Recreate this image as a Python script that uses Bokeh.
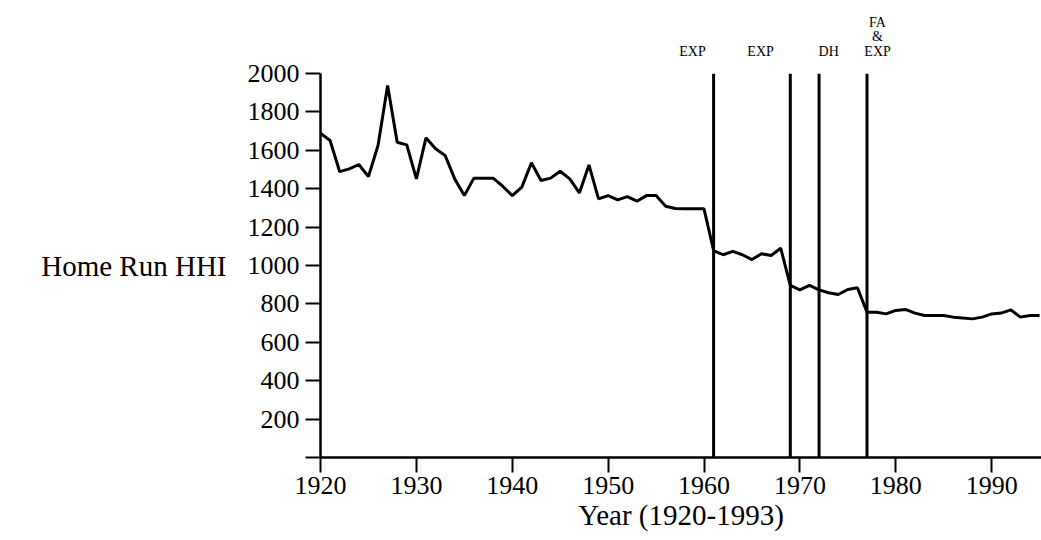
from bokeh.plotting import figure
from bokeh.layouts import column
from bokeh.models import Label, FixedTicker, Range1d
from bokeh.embed import file_html
from bokeh.resources import INLINE

years = list(range(1920, 1996))
hhi = [1689, 1651, 1489, 1503, 1526, 1463, 1625, 1937, 1642, 1628,
       1451, 1665, 1608, 1573, 1451, 1364, 1455, 1455, 1455, 1413,
       1364, 1408, 1535, 1443, 1455, 1491, 1451, 1378, 1524, 1347,
       1364, 1342, 1359, 1335, 1364, 1364, 1309, 1297, 1295, 1295,
       1295, 1078, 1056, 1074, 1056, 1031, 1061, 1052, 1090, 896,
       873, 896, 873, 858, 849, 875, 884, 757, 757, 748,
       766, 771, 752, 740, 740, 740, 731, 726, 722, 731,
       748, 752, 769, 731, 740, 740]
event_years = [1961, 1969, 1972, 1977]
event_tops = [2000, 2000, 2000, 2000]
event_bottoms = [0, 0, 0, 0]
x_ticks = [1920, 1930, 1940, 1950, 1960, 1970, 1980, 1990]
y_ticks = [0, 200, 400, 600, 800, 1000, 1200, 1400, 1600, 1800, 2000]

FONT = "Liberation Serif"
xr = Range1d(1920, 1995.2)

# top strip holding the event annotations
top = figure(width=1041, height=58, output_backend="svg", toolbar_location=None,
             x_range=xr, y_range=Range1d(0, 58),
             x_axis_location=None, y_axis_location=None,
             min_border_left=320, min_border_right=0, min_border_top=0,
             min_border_bottom=0)
top.outline_line_color = None
top.xgrid.visible = False
top.ygrid.visible = False

labels = [("EXP", 1958.8, 7), ("EXP", 1965.9, 7), ("DH", 1973.0, 7),
          ("EXP", 1978.1, 7), ("&", 1978.1, 22), ("FA", 1978.1, 36)]
for txt, lx, ly in labels:
    top.add_layout(Label(x=lx, y=ly, text=txt, text_align="center",
                         text_baseline="alphabetic", text_font=FONT,
                         text_font_size="14px", text_color="black"))

p = figure(width=1041, height=482, output_backend="svg", toolbar_location=None,
           x_range=xr, y_range=Range1d(0, 2000),
           min_border_left=320, min_border_right=0, min_border_top=15,
           min_border_bottom=83)
p.outline_line_color = None
p.xgrid.visible = False
p.ygrid.visible = False

p.line(years, hhi, line_color="black", line_width=3)
p.segment(x0=event_years, y0=event_bottoms, x1=event_years, y1=event_tops,
          line_color="black", line_width=3)

for ax in (p.xaxis[0], p.yaxis[0]):
    ax.axis_line_width = 2.5
    ax.major_tick_line_width = 2
    ax.major_tick_out = 15
    ax.major_tick_in = 0
    ax.minor_tick_line_color = None
    ax.major_label_text_font = FONT
    ax.major_label_text_font_size = "26px"
    ax.major_label_text_color = "black"
    ax.axis_label_text_font = FONT
    ax.axis_label_text_font_size = "29px"
    ax.axis_label_text_font_style = "normal"
    ax.axis_label_text_color = "black"
    ax.axis_line_color = "black"
    ax.major_tick_line_color = "black"

p.xaxis.ticker = FixedTicker(ticks=x_ticks)
p.yaxis.ticker = FixedTicker(ticks=y_ticks)
p.yaxis.major_label_overrides = {0: ""}
p.xaxis.major_label_standoff = 4
p.yaxis.major_label_standoff = 6
p.xaxis.axis_label = "Year (1920-1993)"
p.xaxis.axis_label_standoff = 2
p.yaxis.axis_label = "Home Run HHI"
p.yaxis.axis_label_orientation = "horizontal"
p.yaxis.axis_label_standoff = 18

layout = column(top, p, spacing=0)
open("out.html", "w").write(file_html(layout, INLINE))
